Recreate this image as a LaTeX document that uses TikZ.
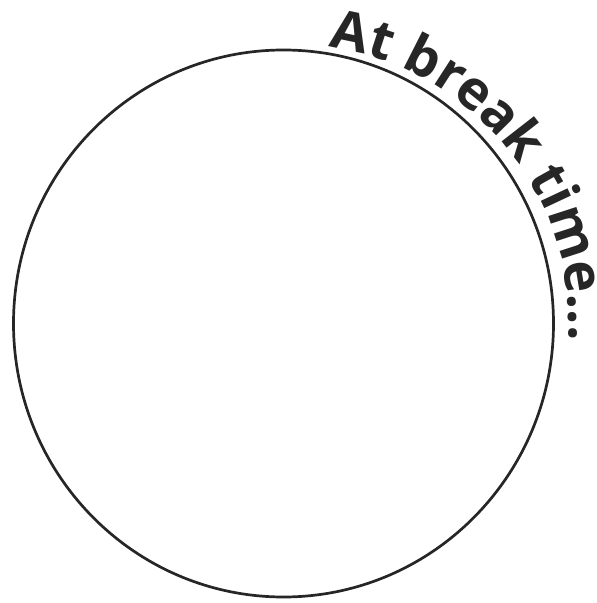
\documentclass[tikz,border=0pt]{standalone}
\usepackage{fontspec}
\newfontfamily\tagfont{Open Sans}
\usepackage{tikz}
\usetikzlibrary{decorations.text}
\definecolor{ink}{HTML}{262626}
\tikzset{
  every picture/.style={
    line join=round,
    line cap=round,
  },
  rim/.style={draw=ink, line width=2.7pt},
  % label bent round the rim
  bentlabel/.style={
    decorate,
    decoration={text along path, text color=ink, text align=left,
      text={|\tagfont\bfseries\fontsize{54}{60}\selectfont|At break time...}},
  },
}
\begin{document}
\begin{tikzpicture}[x=1pt,y=1pt]
\useasboundingbox (0,0) rectangle (597,603);
\coordinate (mid) at (283.5,279.5);
\coordinate (textmid) at (290,279.5);
\draw[rim] (mid) ellipse [x radius=270, y radius=273.5];
\path[bentlabel] (textmid) ++(82:279) arc[start angle=82, end angle=-6, radius=279];
\end{tikzpicture}
\end{document}
